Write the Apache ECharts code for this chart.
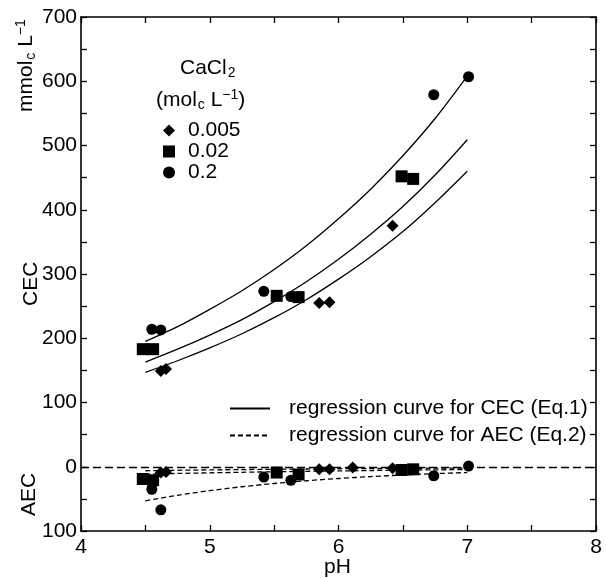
<!DOCTYPE html>
<html><head><meta charset="utf-8">
<script src="https://cdn.jsdelivr.net/npm/echarts@6/dist/echarts.min.js"></script>
<style>html,body{margin:0;padding:0;background:#fff}#c{width:606px;height:578px}</style>
</head><body><div id="c"></div>
<script>
// ---- data ----
const levels = ['0.005', '0.02', '0.2'];
// 0.005 molc/L (diamonds)
const pHCec005 = [4.62, 4.66, 5.85, 5.93, 6.42];
const cec005 = [149, 152, 255, 256, 375];
const pHAec005 = [4.62, 4.66, 5.85, 5.93, 6.11, 6.42];
const aec005 = [-9, -8, -4, -4, -1, -2.5];
// 0.02 (squares)
const pH002 = [4.48, 4.56, 5.52, 5.69, 6.49, 6.58];
const cec002 = [183, 183, 266, 264, 452, 448];
const aec002 = [-19, -21, -9, -12, -5, -4];
// 0.2 (circles)
const pH02 = [4.55, 4.62, 5.42, 5.63, 6.74, 7.01];
const cec02 = [214, 213, 273, 265, 579, 607];
const aec02 = [-35, -67, -16, -21, -14, 1];
// regression curves read at these pH values
const curvePH = [4.5, 4.75, 5.0, 5.25, 5.5, 5.75, 6.0, 6.25, 6.5, 6.75, 7.0];
const cecCurve02 = [195, 218, 245, 274, 307, 344, 386, 432, 484, 542, 608];
const cecCurve002 = [163, 183, 205, 229, 257, 288, 323, 362, 405, 454, 509];
const cecCurve005 = [147, 165, 185, 207, 232, 260, 292, 327, 366, 411, 460];
const aecCurve02 = [-53, -44.4, -37.2, -31.1, -26.1, -21.8, -18.3, -15.3, -12.8, -10.7, -9.0];
const aecCurve002 = [-11.5, -10.4, -9.5, -8.6, -7.8, -7.1, -6.5, -5.9, -5.3, -4.8, -4.4];
const aecCurve005 = [-6.2, -5.5, -4.9, -4.4, -3.9, -3.5, -3.1, -2.8, -2.5, -2.2, -2.0];
// tick labels
const yTicks = [-100, 0, 100, 200, 300, 400, 500, 600, 700];
const yTickLabels = ['100', '0', '100', '200', '300', '400', '500', '600', '700'];
const xTicks = [4, 5, 6, 7, 8];
const xTickLabels = ['4', '5', '6', '7', '8'];
const cecName = 'regression curve for CEC (Eq.1)';
const aecName = 'regression curve for AEC (Eq.2)';

const zip = (a, b) => a.map((v, i) => [v, b[i]]);
const FONT = 'Liberation Sans';
const FS = 21;
const chart = echarts.init(document.getElementById('c'));

const tickStyle = {lineStyle: {color: '#000', width: 1.3}};
function xAx(pos, showLabel) {
  return {
    type: 'value', position: pos, min: 4, max: 8, interval: 1,
    axisLine: {onZero: false, lineStyle: {color: '#000', width: 1.6}},
    axisTick: {inside: true, length: 6, ...tickStyle},
    minorTick: {show: true, splitNumber: 2, length: 6, ...tickStyle},
    splitLine: {show: false},
    axisLabel: {show: showLabel, color: '#000', fontFamily: FONT, fontSize: FS, margin: 6,
      formatter: v => xTickLabels[xTicks.indexOf(v)]}
  };
}
function yAx(pos, showLabel) {
  return {
    type: 'value', position: pos, min: -100, max: 700, interval: 100,
    axisLine: {onZero: false, lineStyle: {color: '#000', width: 1.6}},
    axisTick: {inside: true, length: 6, ...tickStyle},
    minorTick: {show: true, splitNumber: 2, length: 6, ...tickStyle},
    splitLine: {show: false},
    axisLabel: {show: showLabel, color: '#000', fontFamily: FONT, fontSize: FS, margin: 4,
      formatter: v => yTickLabels[yTicks.indexOf(v)]}
  };
}
function curve(name, data, dashed) {
  return {
    name, type: 'line', data, smooth: 0.3, symbol: 'none', showSymbol: false,
    silent: true, z: 2, itemStyle: {color: '#000'},
    lineStyle: {color: '#000', width: 1.3, type: dashed ? [5, 3] : 'solid'}
  };
}
function pts(name, symbol, size, data) {
  return {name, type: 'scatter', symbol, symbolSize: size, data, z: 5,
    itemStyle: {color: '#000', opacity: 1}};
}

chart.setOption({
  animation: false,
  textStyle: {fontFamily: FONT},
  grid: {left: 81, right: 10, top: 17, bottom: 47},
  xAxis: [xAx('bottom', true), xAx('top', false)],
  yAxis: [yAx('left', true), yAx('right', false)],
  legend: [
    {data: levels, orient: 'vertical', left: 158, top: 115, itemWidth: 12, itemHeight: 12,
      itemGap: 0, textStyle: {fontSize: FS, color: '#000', padding: [0, 0, 0, 8], fontFamily: FONT},
      selectedMode: false},
    {data: [cecName, aecName], orient: 'vertical', left: 224, top: 393, itemWidth: 40, itemHeight: 14,
      itemGap: 6, textStyle: {fontSize: FS, color: '#000', padding: [0, 0, 0, 14], fontFamily: FONT},
      itemStyle: {opacity: 0}, selectedMode: false}
  ],
  graphic: [
    {type: 'text', left: 180, top: 58, style: {
      text: '{a|CaCl}{s|2}', rich: {
        a: {fontSize: FS, fontFamily: FONT, fill: '#000'},
        s: {fontSize: 14, fontFamily: FONT, fill: '#000', padding: [10, 0, 0, 1]}}}},
    {type: 'text', left: 156, top: 88, style: {
      text: '{a|(mol}{s|c}{a| L}{p|\u22121}{a|)}', rich: {
        a: {fontSize: FS, fontFamily: FONT, fill: '#000'},
        s: {fontSize: 14, fontFamily: FONT, fill: '#000', padding: [10, 0, 0, 1]},
        p: {fontSize: 14, fontFamily: FONT, fill: '#000', padding: [0, 0, 10, 0]}}}},
    {type: 'text', x: 14, y: 112, rotation: Math.PI / 2, style: {
      text: '{a|mmol}{s|c}{a| L}{p|\u22121}', rich: {
        a: {fontSize: FS, fontFamily: FONT, fill: '#000'},
        s: {fontSize: 14, fontFamily: FONT, fill: '#000', padding: [10, 0, 0, 1]},
        p: {fontSize: 14, fontFamily: FONT, fill: '#000', padding: [0, 0, 10, 0]}}}},
    {type: 'text', x: 21, y: 306, rotation: Math.PI / 2, style: {
      text: 'CEC', font: FS + 'px "Liberation Sans"', fill: '#000'}},
    {type: 'text', x: 19, y: 516, rotation: Math.PI / 2, style: {
      text: 'AEC', font: FS + 'px "Liberation Sans"', fill: '#000'}},
    {type: 'text', left: 324, top: 557, style: {
      text: 'pH', font: FS + 'px "Liberation Sans"', fill: '#000'}}
  ],
  series: [
    curve(cecName, zip(curvePH, cecCurve02), false),
    curve(cecName, zip(curvePH, cecCurve002), false),
    curve(cecName, zip(curvePH, cecCurve005), false),
    curve(aecName, zip(curvePH, aecCurve02), true),
    curve(aecName, zip(curvePH, aecCurve002), true),
    curve(aecName, zip(curvePH, aecCurve005), true),
    {type: 'line', data: [], silent: true,
      markLine: {silent: true, symbol: 'none', label: {show: false},
        lineStyle: {color: '#000', width: 1.3, type: [8, 4]}, data: [{yAxis: 0}]}},
    pts('0.005', 'diamond', 12, zip(pHCec005, cec005).concat(zip(pHAec005, aec005))),
    pts('0.02', 'rect', 12, zip(pH002, cec002).concat(zip(pH002, aec002))),
    pts('0.2', 'circle', 11, zip(pH02, cec02).concat(zip(pH02, aec02)))
  ]
});
</script></body></html>
